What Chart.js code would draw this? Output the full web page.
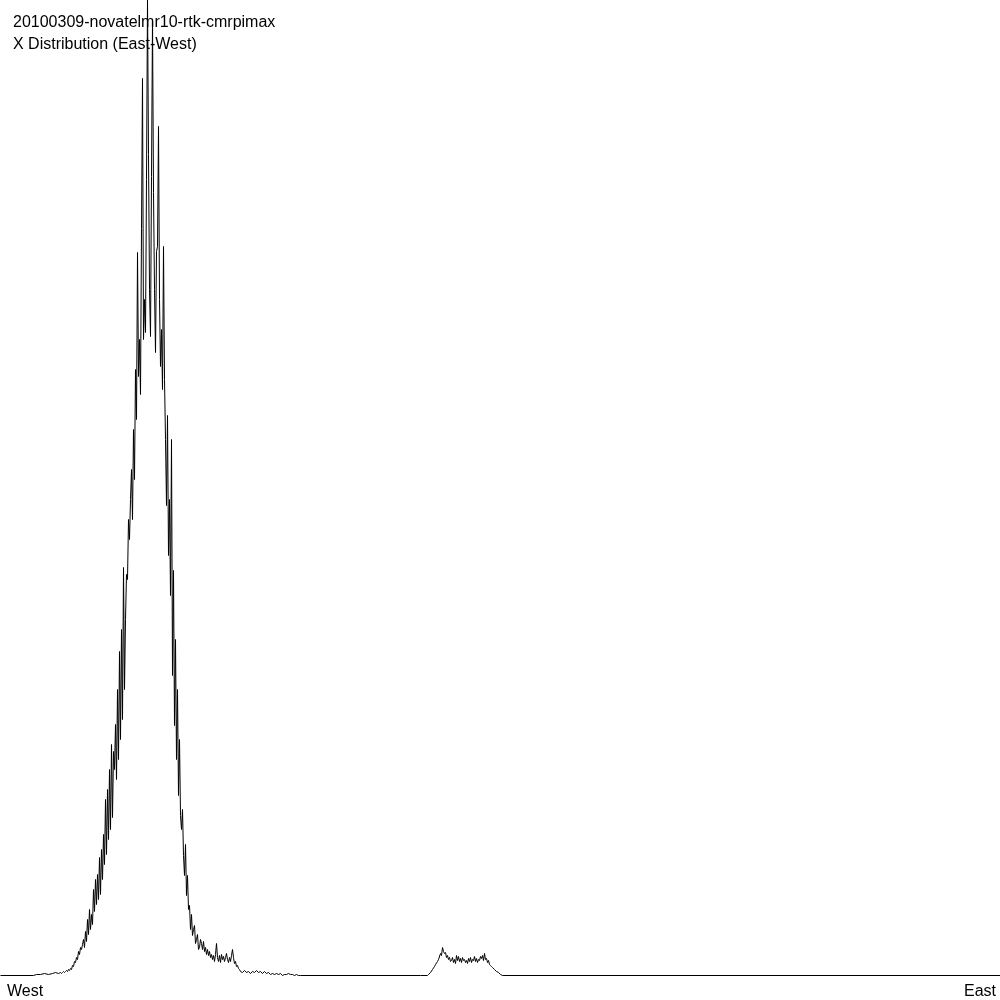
<!DOCTYPE html>
<html>
<head>
<meta charset="utf-8">
<style>
html,body{margin:0;padding:0;background:#fff;}
#wrap{width:1000px;height:1000px;position:relative;}
</style>
<script src="https://cdn.jsdelivr.net/npm/chart.js@4/dist/chart.umd.min.js"></script>
</head>
<body>
<div id="wrap"><canvas id="c" width="1000" height="1000"></canvas></div>
<script>
const titleLines = ["20100309-novatelmr10-rtk-cmrpimax", "X Distribution (East-West)"];
const leftLabel = "West";
const rightLabel = "East";

// West-East position bins
const positions = [
  0,33,36,40,44,48,52,55,58,
  60,61,62,63,64,65,66,67,68,69,70,71,72,73,74,75,76,77,78,79,
  80,81,82,83,84,85,86,87,88,89,90,91,92,93,94,95,96,97,98,99,
  100,101,102,103,104,105,106,107,108,109,110,111,112,113,114,115,116,117,118,119,
  120,121,122,123,124,125,126,127,128,129,130,131,132,133,134,135,136,137,138,139,
  140,141,142,143,144,145,146,147,148,149,150,151,152,153,154,155,156,157,158,159,
  160,161,162,163,164,165,166,167,168,169,170,171,172,173,174,175,176,177,178,179,
  180,181,182,183,184,185,186,187,188,189,190,191,192,193,194,195,196,197,198,199,
  200,201,202,203,204,205,206,207,208,209,210,211,212,213,214,215,216,217,218,219,
  220,221,222,223,224,225,226,227,228,229,230,231,232,233,234,235,236,237,238,239,240,
  242,244,246,248,250,252,254,256,258,260,262,264,266,268,270,272,274,276,278,280,
  282,284,286,288,290,292,294,296,298,300,
  420,427,428,430,432,434,435,437,438,440,441,442,443,444,445,446,447,448,449,450,
  451,452,453,454,455,456,457,458,459,460,461,462,463,464,465,466,467,468,469,470,
  471,472,473,474,475,476,477,478,479,480,481,482,483,484,485,486,487,488,489,490,
  491,492,494,496,498,500,502,1000
];

// counts per bin
const counts = [
  0,0,1,1,2,1,2,3,2,
  3,2,3,4,3,4,5,4,6,5,7,6,10,9,14,13,18,16,24,21,
  28,26,31,36,28,44,34,56,41,66,46,61,51,86,64,96,71,101,76,118,
  81,126,96,141,111,176,121,186,136,206,146,231,158,224,206,251,196,286,216,324,
  236,346,256,408,286,356,401,396,456,436,476,506,456,546,496,606,556,723,599,636,
  581,747,897,636,676,643,796,976,821,686,639,799,956,783,686,623,724,729,849,676,
  609,646,586,729,596,536,470,560,420,476,380,536,300,405,250,336,216,286,180,236,
  160,146,166,120,100,131,80,100,66,70,46,61,40,46,50,32,36,41,26,28,
  36,32,26,34,24,28,21,26,20,24,18,21,16,20,14,21,32,18,14,20,
  13,21,16,19,14,18,22,16,13,18,14,20,26,18,12,14,9,10,7,6,4,
  3,5,3,4,2,4,3,5,3,4,2,4,2,3,1,2,1,2,1,2,
  0,1,1,2,1,1,0,1,0,0,
  0,0,1,3,6,9,11,14,16,22,20,28,24,22,23,18,20,16,18,14,
  15,18,13,16,12,20,15,19,14,17,13,18,15,16,13,15,12,17,14,18,
  13,16,15,19,14,17,13,16,15,19,17,20,15,22,16,17,13,15,11,10,
  9,8,6,4,3,1,0,0
];

const points = positions.map((p, i) => ({x: p, y: counts[i]}));

const textPlugin = {
  id: 'texts',
  beforeDatasetsDraw(chart) {
    const ctx = chart.ctx;
    ctx.save();
    ctx.fillStyle = '#000';
    ctx.font = '16px "Liberation Sans", Arial, sans-serif';
    ctx.textBaseline = 'alphabetic';
    ctx.textAlign = 'left';
    ctx.fillText(titleLines[0], 13, 27);
    ctx.fillText(titleLines[1], 13, 49);
    ctx.fillText(leftLabel, 7, 996);
    ctx.textAlign = 'right';
    ctx.fillText(rightLabel, 996, 996);
    ctx.restore();
  }
};

new Chart(document.getElementById('c'), {
  type: 'line',
  data: {
    datasets: [{
      data: points,
      borderColor: '#000',
      borderWidth: 1,
      pointRadius: 0,
      tension: 0,
      fill: false
    }]
  },
  options: {
    responsive: false,
    animation: false,
    layout: {padding: {left: 0, right: 0, top: 0, bottom: 24}},
    plugins: {legend: {display: false}, tooltip: {enabled: false}, title: {display: false}},
    scales: {
      x: {type: 'linear', min: -0.5, max: 999.5, display: false},
      y: {min: -0.5, max: 975.5, display: false}
    }
  },
  plugins: [textPlugin]
});
</script>
</body>
</html>
